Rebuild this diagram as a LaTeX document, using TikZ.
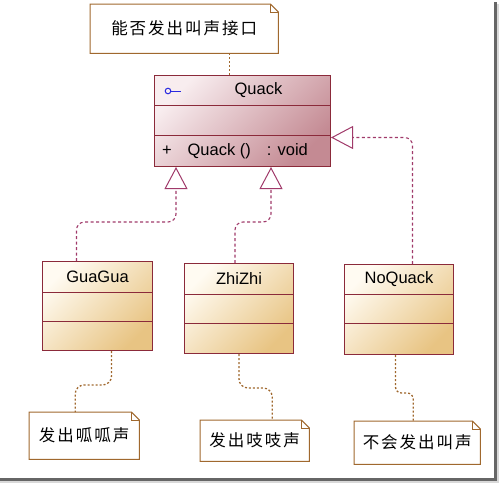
\documentclass[tikz,border=0pt]{standalone}
\usepackage{fontspec}
\setmainfont{Liberation Sans}
\newfontfamily\cjk[LetterSpace=12]{Noto Sans CJK SC}
\usetikzlibrary{arrows.meta, positioning, shapes.multipart, calc}

\definecolor{clsborder}{HTML}{8B2A3A}
\definecolor{quacklight}{HTML}{F8EDEF}
\definecolor{quackdark}{HTML}{C48A93}
\definecolor{sublight}{HTML}{FFFBF2}
\definecolor{subdark}{HTML}{E8C483}
\definecolor{inhcol}{HTML}{A03A6A}
\definecolor{notecol}{HTML}{A0682E}
\definecolor{iconblue}{HTML}{2A2AE0}

\newcommand{\cpart}[3]{\parbox[c][#2][c]{#1}{\centering #3}}
\newcommand{\notefold}[1]{%
  \draw[notecol, line width=1pt] (#1.south west) -- (#1.north west) -- ([xshift=-8pt]#1.north east)
    -- ([yshift=-8pt]#1.north east) -- (#1.south east) -- cycle;
  \draw[notecol, line width=0.6pt] ([xshift=-8pt]#1.north east) |- ([yshift=-8pt]#1.north east);}

\begin{document}
\begin{tikzpicture}[x=1pt, y=-1pt,
        classbox/.style={rectangle split, rectangle split parts=3, rectangle split draw splits, draw=clsborder, line width=1pt, inner sep=0pt, anchor=north west, font=\fontsize{16.5}{18}\selectfont},
        quackcls/.style={top color=quacklight, bottom color=quackdark, shading angle=45},
        subcls/.style={top color=sublight, bottom color=subdark, shading angle=45},
        notebox/.style={rectangle, fill=white, anchor=north west, inner sep=0pt, font=\cjk\fontsize{16.5}{18}\selectfont},
        inherit/.style={draw=inhcol, line width=1.1pt, dash pattern=on 3pt off 2.5pt, rounded corners=8pt, -{Triangle[open, length=22pt, width=23pt, line width=1pt, fill=white]}},
        noteline/.style={draw=notecol, line width=1.3pt, dash pattern=on 2pt off 2pt, rounded corners=9pt}
    ]
        \useasboundingbox (0,0) rectangle (500,483);
        % screenshot frame
        \fill[black!60] (494,2) rectangle (496.5,480.5);
        \fill[black!60] (0,478) rectangle (496.5,480.5);
        \fill[black!15] (496.5,4) rectangle (498.5,482.5);
        \fill[black!15] (0,480.5) rectangle (498.5,482.5);

        % classes
        \node[classbox, quackcls] (quack) at (154,75) {\cpart{176pt}{29pt}{\hspace*{32pt}Quack}\nodepart{two}\cpart{176pt}{29pt}{}\nodepart{three}\cpart{176pt}{30pt}{\raggedright\hspace*{7.5pt}+\hspace{16pt}Quack ()\hspace{16pt}: void}};
        \node[classbox, subcls] (gua) at (42,261) {\cpart{110pt}{30pt}{GuaGua}\nodepart{two}\cpart{110pt}{28pt}{}\nodepart{three}\cpart{110pt}{28pt}{}};
        \node[classbox, subcls] (zhi) at (184,263) {\cpart{109pt}{30pt}{ZhiZhi}\nodepart{two}\cpart{109pt}{28pt}{}\nodepart{three}\cpart{109pt}{29pt}{}};
        \node[classbox, subcls] (noq) at (344,264) {\cpart{109pt}{29pt}{NoQuack}\nodepart{two}\cpart{109pt}{28pt}{}\nodepart{three}\cpart{109pt}{30pt}{}};

        % interface icon
        \coordinate (ico) at ([xshift=14pt, yshift=-16pt]quack.north west);
        \draw[iconblue, line width=1pt] (ico) circle[radius=2.8pt];
        \draw[iconblue, line width=1pt] ([xshift=2.8pt]ico) -- ([xshift=13pt]ico);

        % notes
        \node[notebox, minimum width=188pt, minimum height=49pt] (n0) at (90,4) {能否发出叫声接口};
        \node[notebox, minimum width=110pt, minimum height=47pt] (n1) at (29,412) {发出呱呱声};
        \node[notebox, minimum width=109pt, minimum height=41pt] (n2) at (200,420) {发出吱吱声};
        \node[notebox, minimum width=126pt, minimum height=43pt] (n3) at (354,421) {不会发出叫声};
        \notefold{n0}
        \notefold{n1}
        \notefold{n2}
        \notefold{n3}

        % realization
        \coordinate (q1) at ([xshift=22pt]quack.south west);
        \coordinate (q2) at ([xshift=117pt]quack.south west);
        \coordinate (q3) at ([yshift=-2pt]quack.two split east);
        \draw[inherit] ([xshift=-21pt]gua.north) -- ++(0,-39) -| (q1);
        \draw[inherit] ([xshift=-4pt]zhi.north) -- ++(0,-41) -| (q2);
        \draw[inherit] ([xshift=13.5pt]noq.north) |- (q3);

        % note links
        \coordinate (q0) at ([xshift=-13pt]quack.north);
        \draw[noteline] (n0.south -| q0) -- (q0);
        \draw[noteline] ([xshift=14pt]gua.south) -- ++(0,34) -| ([xshift=-9pt]n1.north);
        \draw[noteline] (zhi.south) -- ++(0,34) -| ([xshift=17.5pt]n2.north);
        \draw[noteline, rounded corners=6pt] ([xshift=-3.5pt]noq.south) -- ++(0,38) -| ([xshift=-4pt]n3.north);
    \end{tikzpicture}
\end{document}
